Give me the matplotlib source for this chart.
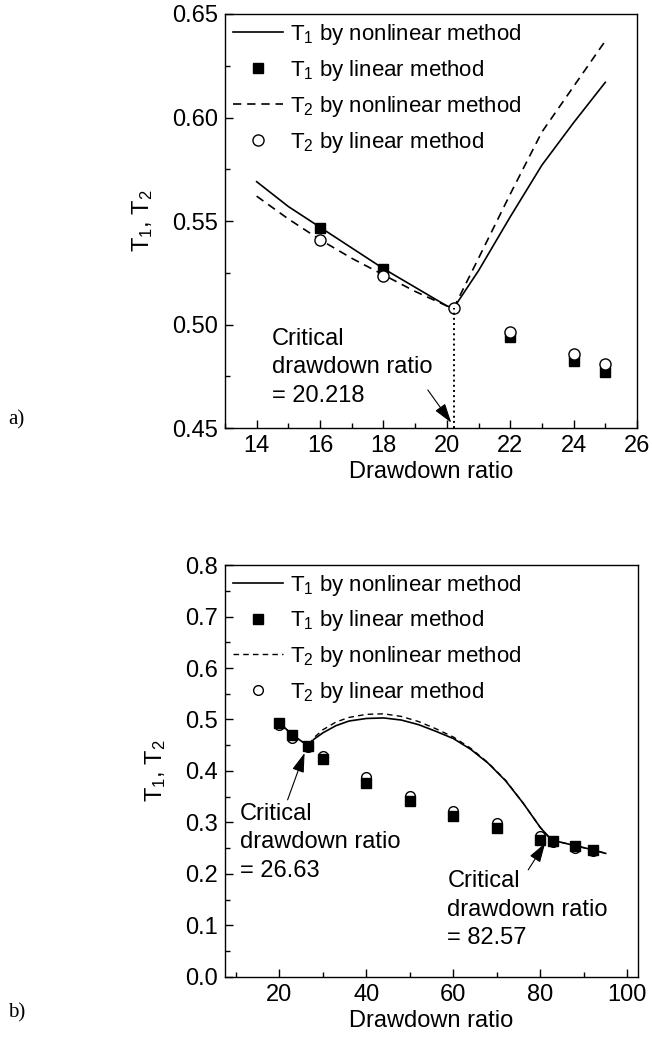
import numpy as np
import matplotlib
matplotlib.use("Agg")
import matplotlib.pyplot as plt
from matplotlib.ticker import MultipleLocator

plt.rcParams["font.family"] = ["Liberation Sans", "DejaVu Sans"]
plt.rcParams["mathtext.default"] = "regular"
plt.rcParams["font.size"] = 17

# ------------------------------------------------------------
# (a) data
# ------------------------------------------------------------
a_curve_x = [14, 15, 16, 17, 18, 19, 20, 20.218, 21, 22, 23, 24, 25]
a_t1_nonlin = [0.569, 0.557, 0.547, 0.537, 0.527, 0.518, 0.509, 0.508,
               0.526, 0.552, 0.577, 0.5975, 0.617]
a_t2_nonlin = [0.562, 0.551, 0.541, 0.532, 0.524, 0.516, 0.509, 0.508,
               0.532, 0.563, 0.593, 0.615, 0.637]

a_t1_lin_x = [16, 18, 22, 24, 25]
a_t1_lin = [0.5465, 0.527, 0.494, 0.4825, 0.4772]
a_t2_lin_x = [16, 18, 20.218, 22, 24, 25]
a_t2_lin = [0.541, 0.5234, 0.508, 0.4966, 0.486, 0.481]

a_crit = 20.218

# ------------------------------------------------------------
# (b) data
# ------------------------------------------------------------
b_curve_x = [20, 23, 26.63, 28, 30, 33, 36, 40, 44, 48, 52, 56, 60, 64,
             68, 72, 76, 80, 82.57, 85, 88, 92, 95]
b_t1_nonlin = [0.494, 0.470, 0.449, 0.462, 0.474, 0.488, 0.497, 0.502,
               0.503, 0.499, 0.490, 0.477, 0.463, 0.442, 0.415, 0.381,
               0.338, 0.290, 0.266, 0.261, 0.255, 0.247, 0.240]
b_t2_nonlin = [0.494, 0.470, 0.449, 0.465, 0.480, 0.495, 0.504, 0.510,
               0.511, 0.506, 0.496, 0.482, 0.466, 0.444, 0.416, 0.382,
               0.338, 0.290, 0.266, 0.261, 0.255, 0.247, 0.240]

b_lin_x = [20, 23, 26.63, 30, 40, 50, 60, 70, 80, 83, 88, 92]
b_t1_lin = [0.493, 0.470, 0.448, 0.424, 0.377, 0.342, 0.313, 0.289,
            0.2666, 0.2647, 0.255, 0.247]
b_t2_lin = [0.489, 0.465, 0.447, 0.430, 0.388, 0.352, 0.323, 0.299,
            0.274, 0.262, 0.251, 0.244]

labels = [r"T$_1$ by nonlinear method", r"T$_1$ by linear method",
          r"T$_2$ by nonlinear method", r"T$_2$ by linear method"]

# ------------------------------------------------------------
# Figure
# ------------------------------------------------------------
fig = plt.figure(figsize=(6.52, 10.44), dpi=100)
ax1 = fig.add_axes([0.345, 0.590, 0.632, 0.3966])
ax2 = fig.add_axes([0.345, 0.0642, 0.634, 0.3946])

arrow_kw = dict(arrowstyle="-|>,head_length=0.7,head_width=0.22",
                color="k", lw=0.8, shrinkA=0, shrinkB=0)


def style_axes(ax):
    for s in ax.spines.values():
        s.set_linewidth(1.0)
    ax.tick_params(which="both", direction="in", top=False, right=False,
                   labelsize=17)
    ax.tick_params(which="major", length=6, width=1.0, pad=5)
    ax.tick_params(which="minor", length=3.5, width=1.0)
    ax.set_xlabel("Drawdown ratio", fontsize=17, labelpad=3)
    ax.set_ylabel(r"T$_1$, T$_2$", fontsize=17, labelpad=12)


# ---- (a)
ax1.plot(a_curve_x, a_t1_nonlin, "-", color="k", lw=1.2, label=labels[0])
ax1.plot(a_t1_lin_x, a_t1_lin, "s", color="k", ms=7.5, label=labels[1],
         zorder=3)
ax1.plot(a_curve_x, a_t2_nonlin, "--", color="k", lw=1.2, dashes=(5, 3.5),
         label=labels[2])
ax1.plot(a_t2_lin_x, a_t2_lin, "o", mfc="white", mec="k", mew=1.0, ms=8,
         label=labels[3], zorder=4)
ax1.plot([a_crit, a_crit], [0.45, 0.508], ":", color="k", lw=1.4, zorder=5)

ax1.set_xlim(13, 26)
ax1.set_ylim(0.45, 0.65)
ax1.xaxis.set_major_locator(MultipleLocator(2))
ax1.xaxis.set_minor_locator(MultipleLocator(1))
ax1.yaxis.set_major_locator(MultipleLocator(0.05))
ax1.yaxis.set_minor_locator(MultipleLocator(0.025))
ax1.yaxis.set_major_formatter(plt.FormatStrFormatter("%.2f"))
style_axes(ax1)

ax1.text(14.47, 0.4985, "Critical\ndrawdown ratio\n= 20.218", ha="left",
         va="top", fontsize=17, linespacing=1.38)
ax1.annotate("", xy=(20.14, 0.4526), xytext=(19.40, 0.4684),
             arrowprops=arrow_kw)

ax1.legend(loc="upper left", frameon=False, fontsize=16, handlelength=2.25,
           handletextpad=0.35, borderaxespad=0.1, borderpad=0.25,
           labelspacing=0.5)

# ---- (b)
ax2.plot(b_curve_x, b_t1_nonlin, "-", color="k", lw=1.2, label=labels[0])
ax2.plot(b_lin_x, b_t1_lin, "s", color="k", ms=6.5, label=labels[1],
         zorder=4)
ax2.plot(b_curve_x, b_t2_nonlin, "--", color="k", lw=1.0, dashes=(4, 3),
         label=labels[2])
ax2.plot(b_lin_x, b_t2_lin, "o", mfc="white", mec="k", mew=1.0, ms=7,
         label=labels[3], zorder=3)

ax2.set_xlim(7.5, 102.5)
ax2.set_ylim(0.0, 0.8)
ax2.xaxis.set_major_locator(MultipleLocator(20))
ax2.xaxis.set_minor_locator(MultipleLocator(10))
ax2.yaxis.set_major_locator(MultipleLocator(0.1))
ax2.yaxis.set_minor_locator(MultipleLocator(0.05))
ax2.yaxis.set_major_formatter(plt.FormatStrFormatter("%.1f"))
style_axes(ax2)

ax2.text(11.0, 0.338, "Critical\ndrawdown ratio\n= 26.63", ha="left",
         va="top", fontsize=17, linespacing=1.38)
ax2.annotate("", xy=(25.8, 0.435), xytext=(21.9, 0.344), arrowprops=arrow_kw)
ax2.text(58.6, 0.207, "Critical\ndrawdown ratio\n= 82.57", ha="left",
         va="top", fontsize=17, linespacing=1.38)
ax2.annotate("", xy=(81.1, 0.26), xytext=(77.2, 0.208), arrowprops=arrow_kw)

ax2.legend(loc="upper left", frameon=False, fontsize=16, handlelength=2.25,
           handletextpad=0.35, borderaxespad=0.1, borderpad=0.25,
           labelspacing=0.48)

fig.text(0.012, 1 - 420 / 1044, "a)", family=["Liberation Serif"],
         fontsize=15, va="center")
fig.text(0.012, 1 - 1013 / 1044, "b)", family=["Liberation Serif"],
         fontsize=15, va="center")

fig.savefig("out.png", dpi=100)
